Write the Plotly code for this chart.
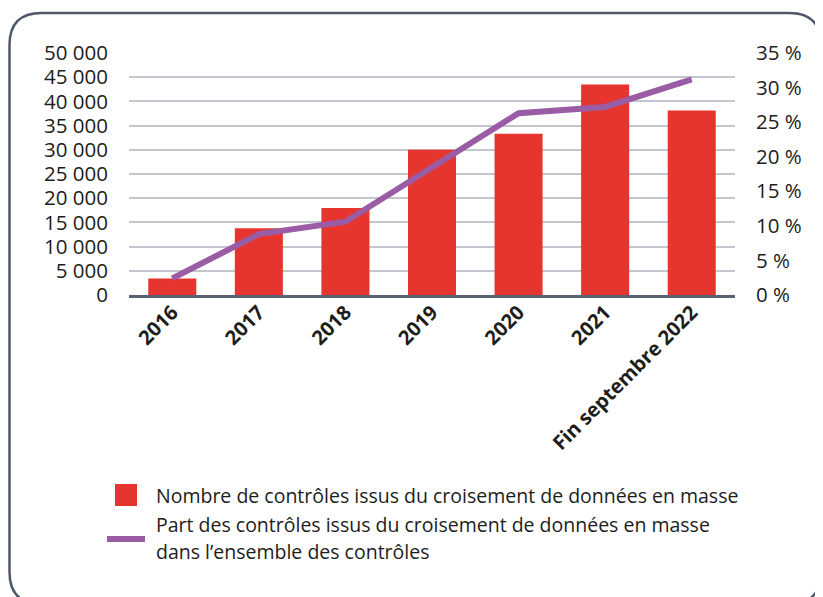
import plotly.graph_objects as go

categories = ["2016", "2017", "2018", "2019", "2020", "2021", "Fin septembre 2022"]
nombre_controles = [3400, 13800, 18000, 30000, 33300, 43500, 38100]
part_controles = [2.4, 8.8, 10.6, 18.5, 26.3, 27.2, 31.2]
left_ticks = [0, 5000, 10000, 15000, 20000, 25000, 30000, 35000, 40000, 45000, 50000]
right_ticks = [0, 5, 10, 15, 20, 25, 30, 35]
right_tick_labels = [f"{v} %" for v in right_ticks]
legend_bar = "Nombre de contrôles issus du croisement de données en masse"
legend_line_1 = "Part des contrôles issus du croisement de données en masse"
legend_line_2 = "dans l’ensemble des contrôles"

OFF = 8  # browser body margin
W, H = 823 - OFF, 597 - OFF
# plot area in reference pixels
RL, RR, RT, RB = 129, 735, 53, 295
L, R, T, B = RL - OFF, RR - OFF, RT - OFF, RB - OFF

def px(x):  # reference pixel x -> paper
    return (x - RL) / (RR - RL)

def py(y):  # reference pixel y -> paper
    return (RB - y) / (RB - RT)

RED = "#E6352E"
PURPLE = "#9B5CA6"
FONT = "Open Sans"
TXT = "#1d1d1b"

fig = go.Figure()
fig.add_trace(go.Bar(
    x=categories, y=nombre_controles, name=legend_bar,
    marker=dict(color=RED, line=dict(width=0)), yaxis="y",
))
fig.add_trace(go.Scatter(
    x=categories, y=part_controles, name=legend_line_1,
    mode="lines", line=dict(color=PURPLE, width=6), yaxis="y2",
))

shapes = []
x0, y0, x1, y1, r = 9.5, 13, 821, 604, 32
path = (
    f"M {px(x0+r)},{py(y0)} L {px(x1-r)},{py(y0)} Q {px(x1)},{py(y0)} {px(x1)},{py(y0+r)} "
    f"L {px(x1)},{py(y1-r)} Q {px(x1)},{py(y1)} {px(x1-r)},{py(y1)} "
    f"L {px(x0+r)},{py(y1)} Q {px(x0)},{py(y1)} {px(x0)},{py(y1-r)} "
    f"L {px(x0)},{py(y0+r)} Q {px(x0)},{py(y0)} {px(x0+r)},{py(y0)} Z"
)
shapes.append(dict(type="path", xref="paper", yref="paper", path=path,
                   line=dict(color="#505969", width=2.5), fillcolor="rgba(0,0,0,0)"))
shapes.append(dict(type="rect", xref="paper", yref="paper",
                   x0=px(115), x1=px(137), y0=py(506), y1=py(484),
                   fillcolor=RED, line=dict(width=0)))
shapes.append(dict(type="line", xref="paper", yref="paper",
                   x0=px(107), x1=px(145), y0=py(539), y1=py(539),
                   line=dict(color=PURPLE, width=6)))

LEG_FONT = dict(family=FONT, size=19.5, color=TXT)
annotations = [
    dict(text=legend_bar, xref="paper", yref="paper", x=px(154), y=py(495),
         xanchor="left", yanchor="middle", showarrow=False, font=LEG_FONT),
    dict(text=legend_line_1, xref="paper", yref="paper", x=px(154), y=py(524),
         xanchor="left", yanchor="middle", showarrow=False, font=LEG_FONT),
    dict(text=legend_line_2, xref="paper", yref="paper", x=px(154), y=py(551),
         xanchor="left", yanchor="middle", showarrow=False, font=LEG_FONT),
]

fig.update_layout(
    width=W, height=H,
    margin=dict(l=L, r=W - R, t=T, b=H - B, pad=0),
    paper_bgcolor="white", plot_bgcolor="white",
    separators=", ",
    showlegend=False,
    bargap=0.445,
    font=dict(family=FONT, color=TXT),
    xaxis=dict(
        type="category", range=[-0.5, 6.5],
        tickangle=-45, tickfont=dict(family=FONT, size=20, color=TXT, weight="bold"),
        showline=True, linecolor="#5a6272", linewidth=2.5,
        showgrid=False, ticks="", ticklabelstandoff=-5,
    ),
    yaxis=dict(
        range=[0, 50000], tickvals=left_ticks, tickformat=",d",
        showgrid=True, gridcolor="#c2c6cf", gridwidth=1.5,
        zeroline=False, showline=False, ticks="",
        tickfont=dict(family=FONT, size=20.5, color=TXT),
        ticklabelstandoff=20,
    ),
    yaxis2=dict(
        range=[0, 35], tickvals=right_ticks, ticktext=right_tick_labels,
        overlaying="y", side="right",
        showgrid=False, zeroline=False, showline=False, ticks="",
        tickfont=dict(family=FONT, size=20.5, color=TXT),
        ticklabelstandoff=20,
    ),
    shapes=shapes,
    annotations=annotations,
)

fig.write_html("out.html")
